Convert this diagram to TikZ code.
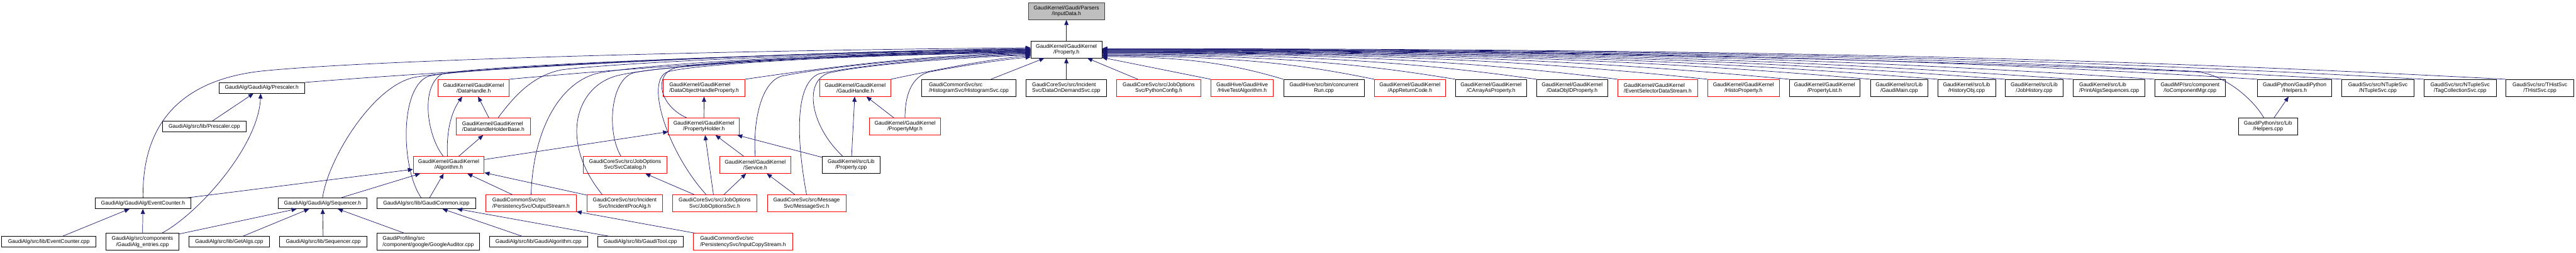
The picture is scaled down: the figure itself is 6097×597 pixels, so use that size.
\documentclass[tikz,border=0pt]{standalone}
\usepackage{fontspec}
\setmainfont{Liberation Sans}
\usetikzlibrary{arrows.meta,calc}
\definecolor{edgeblue}{HTML}{191970}
\definecolor{boxred}{HTML}{FF0000}
\definecolor{boxgray}{HTML}{BFBFBF}
\newcommand\gnode[6]{\node[#1, minimum width={(#4-#3)*0.75pt}] (#2) at ({(#3+#4)/2},#5) {#6};}
\newcommand\redge[3]{\draw[ed] (#1.north west) .. controls ({#2-0.25*(#2-2608)},{188-0.6*(188-#3)}) and ({2608+0.5*(#2-2608)},#3) .. ($(prop.east)+(0,{#3-117})$);}
\begin{document}
\begin{tikzpicture}[x=0.75pt,y=-0.75pt,
  bx/.style={draw=black, rectangle, inner sep=0pt, line width=0.9pt, align=center, font=\fontsize{9.5}{10.5}\selectfont},
  two/.style={bx, minimum height=30pt},
  one/.style={bx, minimum height=18.75pt},
  rb/.style={draw=boxred},
  lft/.style={align=left},
  ed/.style={draw=edgeblue, line width=0.8pt, -{Triangle[length=9pt,width=7.5pt]}}]
\useasboundingbox (0,0) rectangle (6097,597);

% row 0 and 1
\gnode{two,fill=boxgray,draw=black!75}{inputdata}{2434}{2614}{26.5}{GaudiKernel/Gaudi/Parsers\\/InputData.h}
\gnode{two}{prop}{2440}{2608}{117}{GaudiKernel/GaudiKernel\\/Property.h}

% row 2
\gnode{one}{prescalerh}{518}{721}{208}{GaudiAlg/GaudiAlg/Prescaler.h}
\gnode{two,rb}{datahandle}{1037}{1205}{208}{GaudiKernel/GaudiKernel\\/DataHandle.h}
\gnode{two,rb,lft}{dohprop}{1570}{1763}{208}{GaudiKernel/GaudiKernel\\/DataObjectHandleProperty.h}
\gnode{two,rb}{gaudihandle}{1940}{2108}{208}{GaudiKernel/GaudiKernel\\/GaudiHandle.h}
\gnode{two,lft}{histosvc}{2182}{2404}{208}{GaudiCommonSvc/src\\/HistogramSvc/HistogramSvc.cpp}
\gnode{two,lft}{dods}{2428}{2619}{208}{GaudiCoreSvc/src/Incident\\Svc/DataOnDemandSvc.cpp}
\gnode{two,rb}{pyconf}{2643}{2842}{208}{GaudiCoreSvc/src/JobOptions\\Svc/PythonConfig.h}
\gnode{two,rb}{hivetest}{2866}{3014}{208}{GaudiHive/GaudiHive\\/HiveTestAlgorithm.h}
\gnode{two}{concrun}{3038}{3229}{208}{GaudiHive/src/bin/concurrent\\Run.cpp}
\gnode{two,rb}{appret}{3253}{3421}{208}{GaudiKernel/GaudiKernel\\/AppReturnCode.h}
\gnode{two}{carray}{3445}{3613}{208}{GaudiKernel/GaudiKernel\\/CArrayAsProperty.h}
\gnode{two}{dataobjid}{3637}{3805}{208}{GaudiKernel/GaudiKernel\\/DataObjIDProperty.h}
\gnode{two,rb,lft}{evsel}{3829}{4018}{208}{GaudiKernel/GaudiKernel\\/EventSelectorDataStream.h}
\gnode{two,rb}{histoprop}{4042}{4211}{208}{GaudiKernel/GaudiKernel\\/HistoProperty.h}
\gnode{two}{proplist}{4235}{4402}{208}{GaudiKernel/GaudiKernel\\/PropertyList.h}
\gnode{two}{gaudimain}{4427}{4563}{208}{GaudiKernel/src/Lib\\/GaudiMain.cpp}
\gnode{two}{histobj}{4586}{4723}{208}{GaudiKernel/src/Lib\\/HistoryObj.cpp}
\gnode{two}{jobhist}{4746}{4883}{208}{GaudiKernel/src/Lib\\/JobHistory.cpp}
\gnode{two,lft}{printalgs}{4907}{5077}{208}{GaudiKernel/src/Lib\\/PrintAlgsSequences.cpp}
\gnode{two}{iocomp}{5100}{5267}{208}{GaudiMP/src/component\\/IoComponentMgr.cpp}
\gnode{two}{helpersh}{5343}{5519}{208}{GaudiPython/GaudiPython\\/Helpers.h}
\gnode{two}{ntuple}{5543}{5713}{208}{GaudiSvc/src/NTupleSvc\\/NTupleSvc.cpp}
\gnode{two}{tagcoll}{5737}{5908}{208}{GaudiSvc/src/NTupleSvc\\/TagCollectionSvc.cpp}
\gnode{two}{thist}{5931}{6092}{208}{GaudiSvc/src/THistSvc\\/THistSvc.cpp}

% row 3
\gnode{one}{prescalercpp}{384}{583}{299}{GaudiAlg/src/lib/Prescaler.cpp}
\gnode{two,rb,lft}{dhhb}{1080}{1255}{299}{GaudiKernel/GaudiKernel\\/DataHandleHolderBase.h}
\gnode{two,rb}{propholder}{1582}{1750}{299}{GaudiKernel/GaudiKernel\\/PropertyHolder.h}
\gnode{two,rb}{propmgr}{2058}{2226}{299}{GaudiKernel/GaudiKernel\\/PropertyMgr.h}
\gnode{two}{helperscpp}{5298}{5438}{299}{GaudiPython/src/Lib\\/Helpers.cpp}

% row 4
\gnode{two,rb}{algorithm}{978}{1146}{390}{GaudiKernel/GaudiKernel\\/Algorithm.h}
\gnode{two,rb}{svccatalog}{1380}{1579}{390}{GaudiCoreSvc/src/JobOptions\\Svc/SvcCatalog.h}
\gnode{two,rb}{service}{1703}{1872}{390}{GaudiKernel/GaudiKernel\\/Service.h}
\gnode{two}{propcpp}{1946}{2083}{390}{GaudiKernel/src/Lib\\/Property.cpp}

% row 5
\gnode{one}{evcounterh}{225}{452}{481}{GaudiAlg/GaudiAlg/EventCounter.h}
\gnode{one}{sequencerh}{659}{868}{481}{GaudiAlg/GaudiAlg/Sequencer.h}
\gnode{one}{gaudicommon}{892}{1126}{481}{GaudiAlg/src/lib/GaudiCommon.icpp}
\gnode{two,rb,lft}{outstream}{1150}{1364}{481}{GaudiCommonSvc/src\\/PersistencySvc/OutputStream.h}
\gnode{two,rb}{incproc}{1389}{1568}{481}{GaudiCoreSvc/src/Incident\\Svc/IncidentProcAlg.h}
\gnode{two,rb}{jobopts}{1592}{1791}{481}{GaudiCoreSvc/src/JobOptions\\Svc/JobOptionsSvc.h}
\gnode{two,rb}{msgsvc}{1816}{2002}{481}{GaudiCoreSvc/src/Message\\Svc/MessageSvc.h}

% row 6
\gnode{one}{evcountercpp}{4}{227}{572}{GaudiAlg/src/lib/EventCounter.cpp}
\gnode{two}{entries}{251}{423}{572}{GaudiAlg/src/components\\/GaudiAlg\_entries.cpp}
\gnode{one}{getalgs}{447}{638}{572}{GaudiAlg/src/lib/GetAlgs.cpp}
\gnode{one}{sequencercpp}{662}{868}{572}{GaudiAlg/src/lib/Sequencer.cpp}
\gnode{two,lft}{googleaud}{892}{1135}{572}{GaudiProfiling/src\\/component/google/GoogleAuditor.cpp}
\gnode{one}{gaudialgcpp}{1158}{1391}{572}{GaudiAlg/src/lib/GaudiAlgorithm.cpp}
\gnode{one}{gauditool}{1414}{1617}{572}{GaudiAlg/src/lib/GaudiTool.cpp}
\gnode{two,rb,lft}{inputcopy}{1641}{1876}{572}{GaudiCommonSvc/src\\/PersistencySvc/InputCopyStream.h}

% straight edges
\draw[ed] (prop) -- (inputdata);
\draw[ed] (dods) -- (prop);
\draw[ed] (histosvc) -- (prop);
\draw[ed] (pyconf) -- (prop);
\draw[ed] (hivetest.north west) -- ($(prop.east)+(0,19)$);
\draw[ed] (prescalercpp) -- (prescalerh);
\draw[ed] (entries) -- (evcounterh);
\draw[ed] (evcountercpp) -- (evcounterh);
\draw[ed] (evcounterh) -- (algorithm);
\draw[ed] (entries) -- (sequencerh);
\draw[ed] (getalgs) -- (sequencerh);
\draw[ed] (sequencercpp) -- (sequencerh);
\draw[ed] (googleaud) -- (sequencerh);
\draw[ed] (sequencerh) -- (algorithm);
\draw[ed] (gaudicommon) -- (algorithm);
\draw[ed] (gaudialgcpp) -- (gaudicommon);
\draw[ed] (gauditool) -- (gaudicommon);
\draw[ed] (outstream) -- (algorithm);
\draw[ed] (incproc) -- (algorithm);
\draw[ed] (inputcopy) -- (outstream);
\draw[ed] (algorithm) -- (dhhb);
\draw[ed] (dhhb) -- (datahandle);
\draw[ed] (algorithm) -- (propholder);
\draw[ed] (propholder) -- (dohprop);
\draw[ed] (jobopts) -- (svccatalog);
\draw[ed] (jobopts) -- (propholder);
\draw[ed] (jobopts) -- (service);
\draw[ed] (service) -- (propholder);
\draw[ed] (propcpp) -- (propholder);
\draw[ed] (msgsvc) -- (service);
\draw[ed] (propcpp) -- (gaudihandle);
\draw[ed] (propmgr) -- (gaudihandle);
\draw[ed] (helperscpp) -- (helpersh);

% curved local edges
\draw[ed] ($(algorithm.north)+(-3,0)$) .. controls (1056,300) and (1072,260) .. ($(datahandle.south)+(-27,0)$);
\draw[ed] ($(entries.north)+(46,0)$) .. controls (470,505) and (612,345) .. ($(prescalerh.south)+(-2.5,0)$);

% left edges into Property.h
\draw[ed] (prescalerh.north east) .. controls (1000,172) and (1800,122) .. ($(prop.west)+(0,-2)$);
\draw[ed] (datahandle.north east) .. controls (1500,160) and (2000,125) .. ($(prop.west)+(0,2)$);
\draw[ed] (dohprop.north east) .. controls (1950,160) and (2200,128) .. ($(prop.west)+(0,9)$);
\draw[ed] (gaudihandle.north east) .. controls (2200,168) and (2350,138) .. ($(prop.west)+(0,15)$);
\draw[ed] (evcounterh.north) .. controls (336,300) and (420,190) .. (620,168) .. controls (900,140) and (1800,118) .. ($(prop.west)+(0,-4)$);
\draw[ed] (sequencerh.north) .. controls (775,380) and (880,205) .. (980,183) .. controls (1100,160) and (1900,122) .. ($(prop.west)+(0,-1)$);
\draw[ed] ($(gaudicommon.north)+(-12,0)$) .. controls (950,400) and (945,215) .. (1010,182) .. controls (1050,162) and (1800,124) .. ($(prop.west)+(0,0)$);
\draw[ed] ($(algorithm.north)+(-13,0)$) .. controls (1010,320) and (995,205) .. (1045,176) .. controls (1080,158) and (1800,126) .. ($(prop.west)+(0,1)$);
\draw[ed] ($(dhhb.north)+(11.5,0)$) .. controls (1215,230) and (1260,178) .. (1330,165) .. controls (1450,150) and (1900,126) .. ($(prop.west)+(0,3)$);
\draw[ed] (outstream.north) .. controls (1262,300) and (1330,190) .. (1420,172) .. controls (1550,150) and (1950,126) .. ($(prop.west)+(0,4)$);
\draw[ed] ($(incproc.north)+(-53,0)$) .. controls (1320,330) and (1365,200) .. (1465,178) .. controls (1560,155) and (1950,127) .. ($(prop.west)+(0,5)$);
\draw[ed] ($(svccatalog.north)+(-10,0)$) .. controls (1435,310) and (1445,188) .. (1500,172) .. controls (1580,155) and (2000,128) .. ($(prop.west)+(0,6)$);
\draw[ed] ($(jobopts.north)+(-20,0)$) .. controls (1580,360) and (1525,190) .. (1580,170) .. controls (1640,152) and (2000,130) .. ($(prop.west)+(0,7)$);
\draw[ed] ($(propholder.north)+(-41,0)$) .. controls (1560,250) and (1545,175) .. (1600,160) .. controls (1700,140) and (2100,128) .. ($(prop.west)+(0,8)$);
\draw[ed] (service.north) .. controls (1782,290) and (1800,195) .. (1850,180) .. controls (1950,160) and (2200,132) .. ($(prop.west)+(0,10)$);
\draw[ed] (msgsvc.north) .. controls (1885,330) and (1880,195) .. (1940,174) .. controls (2050,152) and (2250,133) .. ($(prop.west)+(0,12)$);
\draw[ed] ($(propcpp.north)+(-20,0)$) .. controls (1920,300) and (1900,195) .. (1960,173) .. controls (2060,150) and (2300,135) .. ($(prop.west)+(0,13)$);
\draw[ed] (propmgr.north) .. controls (2142,220) and (2160,180) .. (2200,170) .. controls (2280,155) and (2380,140) .. ($(prop.west)+(0,18)$);

% right edges into Property.h
\redge{concrun}{3038}{134}
\redge{appret}{3253}{132}
\redge{carray}{3445}{130}
\redge{dataobjid}{3637}{128}
\redge{evsel}{3829}{126}
\redge{histoprop}{4042}{125}
\redge{proplist}{4235}{124}
\redge{gaudimain}{4427}{123}
\redge{histobj}{4586}{122}
\redge{jobhist}{4746}{121}
\redge{printalgs}{4907}{120}
\redge{iocomp}{5100}{119}
\redge{helpersh}{5343}{118}
\redge{ntuple}{5543}{117}
\redge{tagcoll}{5737}{116}
\redge{thist}{5931}{115}
\draw[ed] ($(helperscpp.north)+(-10,0)$) .. controls (5330,230) and (5260,175) .. (5200,170) .. controls (4500,140) and (3500,117) .. (prop.east);
\end{tikzpicture}
\end{document}
